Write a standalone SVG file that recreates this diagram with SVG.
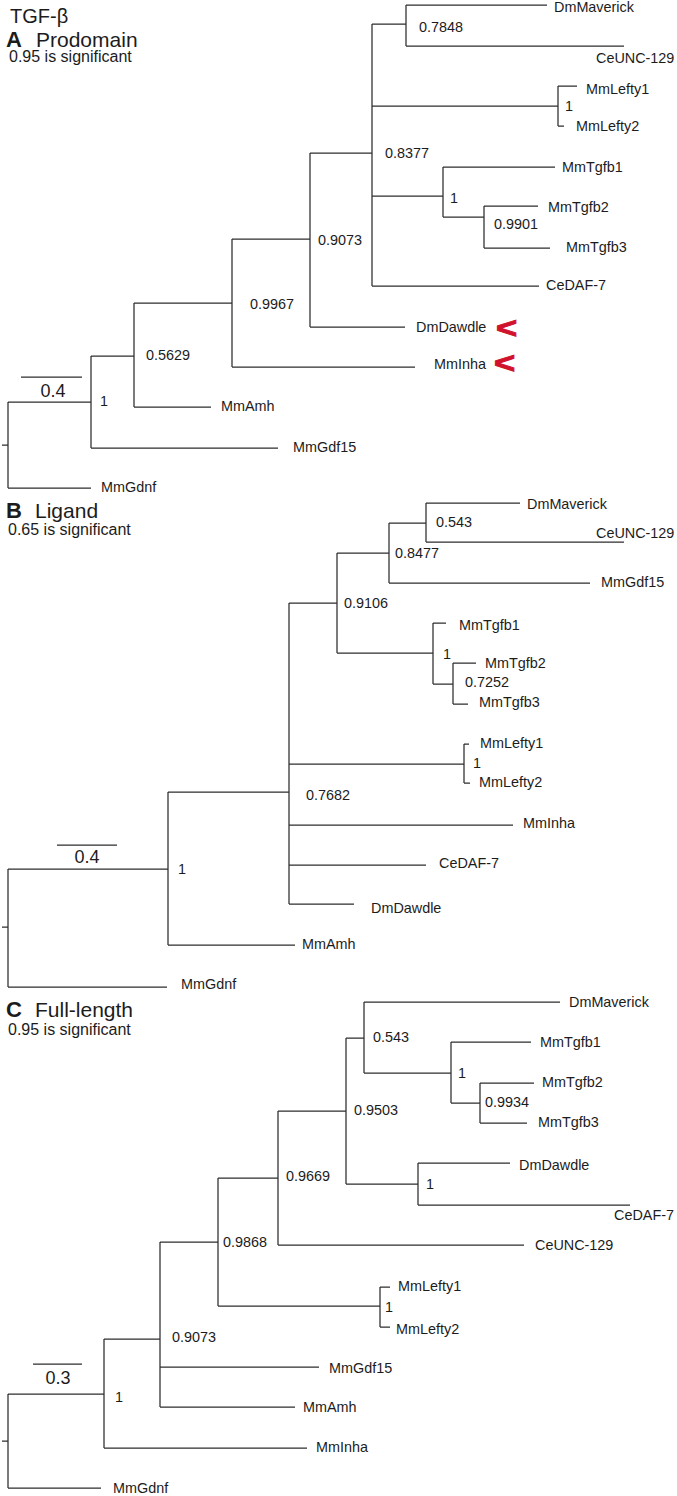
<svg xmlns="http://www.w3.org/2000/svg" width="677" height="1496" viewBox="0 0 677 1496">
<style>
text{font-family:"Liberation Sans",Arial,sans-serif;fill:#1c1c1c}
.lb{font-size:14.4px}
.t{font-size:20px}
.h{font-size:21px}
.L{font-size:22px;font-weight:bold}
.s{font-size:16px}
.sc{font-size:18px;text-anchor:middle}
.red{font-size:28px;font-weight:bold;fill:#d0122c;stroke:#d0122c;stroke-width:0.9}
.br{fill:none;stroke:#2e2e2e;stroke-width:1.25}
</style>
<rect width="677" height="1496" fill="#fff"/>
<g id="titles">
<text class="t" x="10" y="23">TGF-β</text>
<text class="L" x="6" y="47">A</text><text class="h" x="36" y="47">Prodomain</text>
<text class="s" x="9" y="62">0.95 is significant</text>
<text class="L" x="6" y="518">B</text><text class="h" x="35" y="518">Ligand</text>
<text class="s" x="8" y="535">0.65 is significant</text>
<text class="L" x="6" y="1017">C</text><text class="h" x="35" y="1017">Full-length</text>
<text class="s" x="8" y="1035">0.95 is significant</text>
</g>
<g id="connectors">
<path class="br" d="M2,445H8M8,402V488M8,402H91M8,488H91M91,356V448M91,448H278M91,356H134M134,303V407M134,407H211M134,303H232M232,239V367M232,367H415M232,239H310M310,153V327M310,327H405M310,153H372M372,24V286M372,286H539M372,24H406M406,5V46M406,5H547M406,46H624M372,106H558M558,86V126M558,86H577M558,126H564M372,196H443M443,167V217M443,167H555M443,217H484M484,206V248M484,206H538M484,248H550M21,377H82"/>
<path class="br" d="M2,927H8M8,869V987M8,987H167M8,869H168M168,792V945M168,945H295M168,792H289M289,603V904M289,904H354M289,865H426M289,825H513M289,764H464M464,744V783M464,744H469M464,783H470M289,603H337M337,553V653M337,553H389M389,523V583M389,583H590M389,523H426M426,503V542M426,503H520M426,542H624M337,653H433M433,623V684M433,623H446M433,684H453M453,663V704M453,663H476M453,704H468M57,845H117"/>
<path class="br" d="M2,1441H8M8,1394V1488M8,1488H101M8,1394H104M104,1339V1448M104,1448H307M104,1339H160M160,1242V1407M160,1407H295M160,1367H319M160,1242H218M218,1178V1306M218,1306H380M380,1287V1327M380,1287H390M380,1327H390M218,1178H278M278,1111V1245M278,1245H524M278,1111H346M346,1038V1184M346,1184H418M418,1163V1205M418,1163H510M418,1205H630M346,1038H364M364,1002V1073M364,1002H560M364,1073H451M451,1042V1103M451,1042H531M451,1103H480M480,1083V1123M480,1083H534M480,1123H527M33,1364H82"/>
</g>
<g id="panelA">
<g id="a-dmmaverick"><text class="lb" x="554" y="12">DmMaverick</text></g>
<g id="a-ceunc129"><text class="lb" x="596" y="63">CeUNC-129</text></g>
<g id="a-n07848"><text class="lb" x="419" y="32">0.7848</text></g>
<g id="a-mmlefty1"><text class="lb" x="586" y="94">MmLefty1</text></g>
<g id="a-nlefty"><text class="lb" x="565" y="111">1</text></g>
<g id="a-mmlefty2"><text class="lb" x="576" y="131">MmLefty2</text></g>
<g id="a-n08377"><text class="lb" x="385" y="158">0.8377</text></g>
<g id="a-mmtgfb1"><text class="lb" x="562" y="172">MmTgfb1</text></g>
<g id="a-ntgfb"><text class="lb" x="450" y="203">1</text></g>
<g id="a-mmtgfb2"><text class="lb" x="548" y="212">MmTgfb2</text></g>
<g id="a-n09901"><text class="lb" x="494" y="229">0.9901</text></g>
<g id="a-mmtgfb3"><text class="lb" x="566" y="252">MmTgfb3</text></g>
<g id="a-cedaf7"><text class="lb" x="546" y="290">CeDAF-7</text></g>
<g id="a-n09073"><text class="lb" x="318" y="245">0.9073</text></g>
<g id="a-dmdawdle"><text class="lb" x="416" y="332">DmDawdle</text><text class="red" transform="translate(496,338) scale(1.3,1.05)">&lt;</text></g>
<g id="a-mminha"><text class="lb" x="434" y="369">MmInha</text><text class="red" transform="translate(494,373) scale(1.3,1.05)">&lt;</text></g>
<g id="a-n09967"><text class="lb" x="250" y="309">0.9967</text></g>
<g id="a-n05629"><text class="lb" x="146" y="360">0.5629</text></g>
<g id="a-mmamh"><text class="lb" x="221" y="411">MmAmh</text></g>
<g id="a-n1"><text class="lb" x="100" y="406">1</text></g>
<g id="a-mmgdf15"><text class="lb" x="293" y="452">MmGdf15</text></g>
<g id="a-mmgdnf"><text class="lb" x="101" y="492">MmGdnf</text></g>
<g id="a-scale"><text class="sc" x="53" y="397">0.4</text></g>
</g>
<g id="panelB">
<g id="b-dmmaverick"><text class="lb" x="527" y="509">DmMaverick</text></g>
<g id="b-n0543"><text class="lb" x="436" y="527">0.543</text></g>
<g id="b-ceunc129"><text class="lb" x="596" y="538">CeUNC-129</text></g>
<g id="b-n08477"><text class="lb" x="395" y="558">0.8477</text></g>
<g id="b-mmgdf15"><text class="lb" x="601" y="587">MmGdf15</text></g>
<g id="b-n09106"><text class="lb" x="344" y="608">0.9106</text></g>
<g id="b-mmtgfb1"><text class="lb" x="459" y="630">MmTgfb1</text></g>
<g id="b-ntgfb"><text class="lb" x="443" y="659">1</text></g>
<g id="b-mmtgfb2"><text class="lb" x="485" y="668">MmTgfb2</text></g>
<g id="b-n07252"><text class="lb" x="465" y="687">0.7252</text></g>
<g id="b-mmtgfb3"><text class="lb" x="479" y="707">MmTgfb3</text></g>
<g id="b-mmlefty1"><text class="lb" x="480" y="748">MmLefty1</text></g>
<g id="b-nlefty"><text class="lb" x="473" y="768">1</text></g>
<g id="b-mmlefty2"><text class="lb" x="479" y="787">MmLefty2</text></g>
<g id="b-n07682"><text class="lb" x="306" y="800">0.7682</text></g>
<g id="b-mminha"><text class="lb" x="523" y="828">MmInha</text></g>
<g id="b-cedaf7"><text class="lb" x="439" y="868">CeDAF-7</text></g>
<g id="b-n1"><text class="lb" x="178" y="874">1</text></g>
<g id="b-dmdawdle"><text class="lb" x="371" y="913">DmDawdle</text></g>
<g id="b-mmamh"><text class="lb" x="302" y="949">MmAmh</text></g>
<g id="b-mmgdnf"><text class="lb" x="181" y="989">MmGdnf</text></g>
<g id="b-scale"><text class="sc" x="87" y="863">0.4</text></g>
</g>
<g id="panelC">
<g id="c-dmmaverick"><text class="lb" x="569" y="1007">DmMaverick</text></g>
<g id="c-n0543"><text class="lb" x="373" y="1042">0.543</text></g>
<g id="c-mmtgfb1"><text class="lb" x="540" y="1047">MmTgfb1</text></g>
<g id="c-ntgfb"><text class="lb" x="458" y="1078">1</text></g>
<g id="c-mmtgfb2"><text class="lb" x="542" y="1087">MmTgfb2</text></g>
<g id="c-n09934"><text class="lb" x="485" y="1107">0.9934</text></g>
<g id="c-n09503"><text class="lb" x="354" y="1115">0.9503</text></g>
<g id="c-mmtgfb3"><text class="lb" x="538" y="1127">MmTgfb3</text></g>
<g id="c-dmdawdle"><text class="lb" x="519" y="1170">DmDawdle</text></g>
<g id="c-n09669"><text class="lb" x="286" y="1181">0.9669</text></g>
<g id="c-ndaf"><text class="lb" x="426" y="1189">1</text></g>
<g id="c-cedaf7"><text class="lb" x="614" y="1220">CeDAF-7</text></g>
<g id="c-n09868"><text class="lb" x="223" y="1247">0.9868</text></g>
<g id="c-ceunc129"><text class="lb" x="535" y="1250">CeUNC-129</text></g>
<g id="c-mmlefty1"><text class="lb" x="398" y="1291">MmLefty1</text></g>
<g id="c-nlefty"><text class="lb" x="385" y="1312">1</text></g>
<g id="c-mmlefty2"><text class="lb" x="396" y="1334">MmLefty2</text></g>
<g id="c-n09073"><text class="lb" x="172" y="1342">0.9073</text></g>
<g id="c-mmgdf15"><text class="lb" x="329" y="1373">MmGdf15</text></g>
<g id="c-n1"><text class="lb" x="115" y="1402">1</text></g>
<g id="c-mmamh"><text class="lb" x="303" y="1412">MmAmh</text></g>
<g id="c-mminha"><text class="lb" x="316" y="1452">MmInha</text></g>
<g id="c-mmgdnf"><text class="lb" x="113" y="1493">MmGdnf</text></g>
<g id="c-scale"><text class="sc" x="58" y="1384">0.3</text></g>
</g>
</svg>
